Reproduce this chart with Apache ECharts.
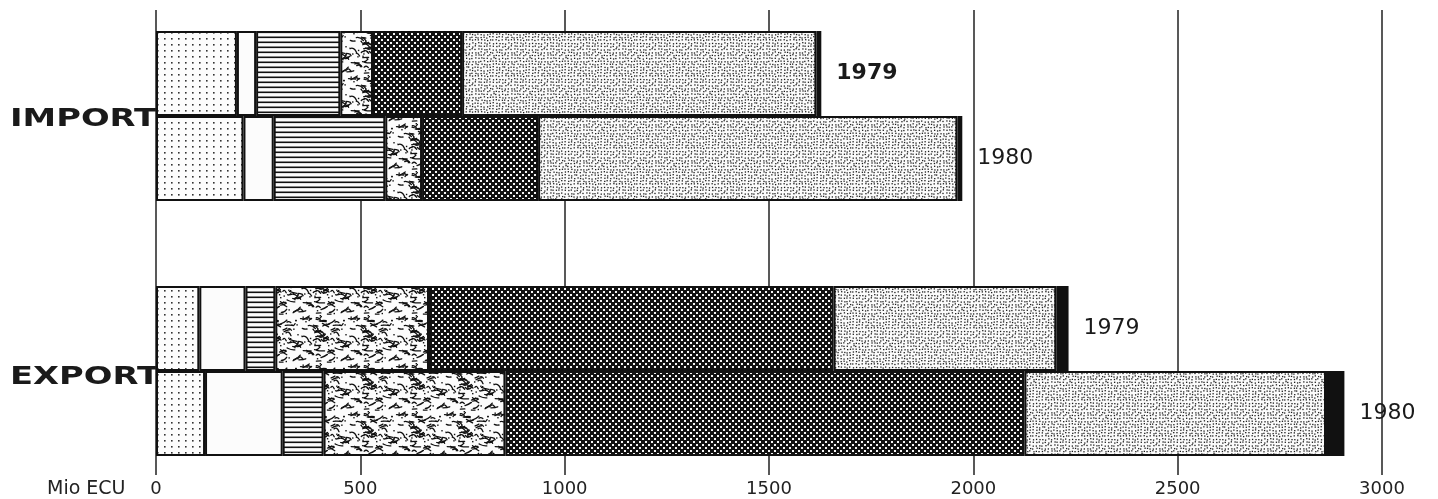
<!DOCTYPE html>
<html>
<head>
<meta charset="utf-8">
<title>Import / Export, Mio ECU</title>
<script src="https://cdn.jsdelivr.net/npm/echarts@6/dist/echarts.min.js"></script>
<style>
  html, body { margin: 0; padding: 0; background: #fff; }
  #chart { width: 1438px; height: 499px; }
</style>
</head>
<body>
<div id="chart"></div>
<script>
// rows from top to bottom; the empty row separates IMPORT and EXPORT
const years = ["1979", "1980", "", "1979", "1980"];
const groups = ["IMPORT", "EXPORT"];
const unitLabel = "Mio ECU";

// segment values (Mio ECU), left to right
const seg1 = [198, 214, null, 106, 120];
const seg2 = [47, 74, null, 113, 190];
const seg3 = [206, 273, null, 73, 100];
const seg4 = [80, 90, null, 376, 445];
const seg5 = [218, 284, null, 990, 1270];
const seg6 = [867, 1026, null, 545, 738];
const seg7 = [12, 12, null, 30, 45];

// --- hatch patterns (drawn once on small canvases) ---
function tile(w, h, draw) {
  const c = document.createElement("canvas");
  c.width = w; c.height = h;
  const ctx = c.getContext("2d");
  draw(ctx, w, h);
  return { image: c, repeat: "repeat" };
}

// simple seeded generator, only used for texture placement
function lcg(seed) {
  let s = seed;
  return () => (s = (s * 1103515245 + 12345) % 2147483648) / 2147483648;
}

const patSparseDots = tile(7, 6, (ctx) => {
  ctx.fillStyle = "#fcfcfc"; ctx.fillRect(0, 0, 7, 6);
  ctx.fillStyle = "#333"; ctx.fillRect(3, 2, 1.6, 1.6);
});

const patLines = tile(4, 5, (ctx) => {
  ctx.fillStyle = "#fcfcfc"; ctx.fillRect(0, 0, 4, 5);
  ctx.fillStyle = "#111"; ctx.fillRect(0, 1.5, 4, 1.6);
});

const patSquiggle = tile(48, 48, (ctx, w, h) => {
  ctx.fillStyle = "#fcfcfc"; ctx.fillRect(0, 0, w, h);
  ctx.strokeStyle = "#111"; ctx.lineWidth = 1.3; ctx.lineCap = "round";
  const r = lcg(7);
  for (let k = 0; k < 70; k++) {
    const x = r() * w, y = r() * h;
    const a = (r() - 0.5) * 1.4;
    const len = 3 + r() * 5;
    const bend = (r() - 0.5) * 5;
    for (let ox = -w; ox <= w; ox += w) {
      for (let oy = -h; oy <= h; oy += h) {
        ctx.beginPath();
        ctx.moveTo(x + ox, y + oy);
        ctx.quadraticCurveTo(x + ox + len * 0.5, y + oy + bend,
          x + ox + len * Math.cos(a), y + oy + len * Math.sin(a));
        ctx.stroke();
      }
    }
  }
  ctx.fillStyle = "#111";
  for (let k = 0; k < 40; k++) {
    ctx.fillRect(r() * w, r() * h, 1.4, 1.4);
  }
});

const patDark = tile(6, 6, (ctx) => {
  ctx.fillStyle = "#111"; ctx.fillRect(0, 0, 6, 6);
  ctx.fillStyle = "#f6f6f6";
  ctx.fillRect(0, 0, 2, 2);
  ctx.fillRect(3, 3, 2, 2);
});

const patStipple = tile(36, 36, (ctx, w, h) => {
  ctx.fillStyle = "#fbfbfb"; ctx.fillRect(0, 0, w, h);
  ctx.fillStyle = "#1a1a1a";
  const r = lcg(31);
  for (let y = 0; y < h; y += 3) {
    for (let x = 0; x < w; x += 3) {
      ctx.fillRect(x + r() * 1.5, y + r() * 1.5, 1.3, 1.3);
    }
  }
});

const fills = [patSparseDots, "#fcfcfc", patLines, patSquiggle, patDark, patStipple, "#111"];
const segs = [seg1, seg2, seg3, seg4, seg5, seg6, seg7];

const series = segs.map((arr, i) => ({
  type: "bar",
  stack: "total",
  barCategoryGap: "0%",
  itemStyle: { color: fills[i], borderColor: "#111", borderWidth: 2 },
  data: i === 6
    ? arr.map((v, j) => (j === 0 ? { value: v, label: { fontWeight: "bold" } } : v))
    : arr,
  label: i === 6 ? {
    show: true,
    position: "right",
    distance: 15,
    formatter: (p) => years[p.dataIndex],
    fontFamily: "DejaVu Sans",
    fontSize: 22,
    color: "#1a1a1a"
  } : { show: false }
}));

const chart = echarts.init(document.getElementById("chart"));
chart.setOption({
  animation: false,
  backgroundColor: "#fff",
  grid: { left: 156, right: 56, top: 31, bottom: 43 },
  xAxis: [
    {
      type: "value",
      min: 0, max: 3000, interval: 500,
      axisLine: { show: false },
      axisTick: { show: true, length: 19, lineStyle: { color: "#222", width: 1.5 } },
      axisLabel: {
        margin: 24, fontFamily: "DejaVu Sans", fontSize: 18, color: "#222",
        formatter: (v) => String(v)
      },
      splitLine: { show: true, lineStyle: { color: "#222", width: 1.5 } }
    },
    {
      type: "value",
      position: "top",
      min: 0, max: 3000, interval: 500,
      axisLine: { show: false },
      axisTick: { show: true, length: 21, lineStyle: { color: "#222", width: 1.5 } },
      axisLabel: { show: false },
      splitLine: { show: false }
    }
  ],
  yAxis: {
    type: "category",
    inverse: true,
    data: years,
    axisLine: { show: false },
    axisTick: { show: false },
    axisLabel: { show: false }
  },
  graphic: [
    {
      type: "text", x: 10, y: 119, scaleX: 1.35,
      style: { text: groups[0], font: "bold 25px 'DejaVu Sans'", fill: "#1a1a1a", verticalAlign: "middle" }
    },
    {
      type: "text", x: 10, y: 377, scaleX: 1.35,
      style: { text: groups[1], font: "bold 25px 'DejaVu Sans'", fill: "#1a1a1a", verticalAlign: "middle" }
    },
    {
      type: "text", x: 47, y: 489,
      style: { text: unitLabel, font: "19px 'DejaVu Sans'", fill: "#222", verticalAlign: "middle" }
    }
  ],
  series: series
});
</script>
</body>
</html>
